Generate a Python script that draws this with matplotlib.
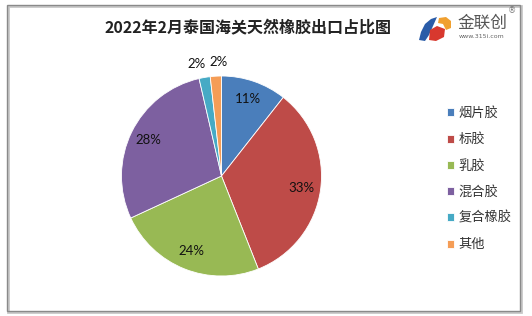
import matplotlib
matplotlib.use("Agg")
import matplotlib.pyplot as plt
from matplotlib.patches import Rectangle, Polygon
import numpy as np

plt.rcParams['font.family'] = ['Noto Sans CJK SC', 'DejaVu Sans']

title = "2022年2月泰国海关天然橡胶出口占比图"
categories = ["烟片胶", "标胶", "乳胶", "混合胶", "复合橡胶", "其他"]
values = [10.6, 33.4, 24.1, 28.3, 1.8, 1.8]
colors = ["#4A7EBB", "#BE4B48", "#98B954", "#7D60A0", "#46AAC5", "#F59D56"]

W, H = 532, 316
fig = plt.figure(figsize=(W / 100, H / 100), dpi=100)
fig.patch.set_facecolor("white")

def fx(x):
    return x / W

def fy(y):
    return 1 - y / H

# outer frame with slight shadow
fig.patches.append(Rectangle((fx(8), fy(312)), (521 - 8) / W, (312 - 6) / H,
                             transform=fig.transFigure, fill=False,
                             edgecolor="#c8c8c8", lw=2.0))
fig.patches.append(Rectangle((fx(7), fy(311)), (520 - 7) / W, (311 - 5) / H,
                             transform=fig.transFigure, fill=False,
                             edgecolor="#8a8a8a", lw=1.0))

# pie axes: center (221.5,176), radius 100 px, limits +-1.25
cx, cy, r = 221.5, 176, 100
half = 1.25 * r
ax = fig.add_axes([fx(cx - half), fy(cy + half), 2 * half / W, 2 * half / H])
wedges, texts, autotexts = ax.pie(
    values, colors=colors, startangle=90, counterclock=False,
    autopct='%.0f%%', pctdistance=0.81,
    wedgeprops=dict(edgecolor="white", linewidth=0.6),
    textprops=dict(fontsize=9.5, family=['Lato', 'DejaVu Sans'], color="#111111"))
ax.set_xlim(-1.25, 1.25)
ax.set_ylim(-1.25, 1.25)
ax.set_aspect('equal')
ax.axis('off')

# small slices: labels outside
for i, w in enumerate(wedges):
    if values[i] < 5:
        ang = np.deg2rad((w.theta1 + w.theta2) / 2)
        autotexts[i].set_position((1.14 * np.cos(ang) + (-0.06 if i == 4 else 0.04),
                                   1.14 * np.sin(ang)))

# legend
leg = fig.legend(wedges, categories, loc="upper left",
                 bbox_to_anchor=(fx(440), fy(100.5)), frameon=False,
                 fontsize=9.5, handlelength=0.55, handleheight=0.55,
                 handletextpad=0.35, labelspacing=1.0, borderpad=0)
for t in leg.get_texts():
    t.set_color("#333333")

# title
fig.text(fx(248), fy(28), title, ha="center", va="center",
         fontsize=11.5, fontweight="bold", color="#222222")

# logo (approximate)
fig.patches.append(Polygon([(fx(431), fy(19)), (fx(437), fy(17)), (fx(433), fy(26)),
                            (fx(429), fy(35)), (fx(425), fy(41)), (fx(419), fy(40)),
                            (fx(421), fy(32)), (fx(425), fy(24))],
                           closed=True, transform=fig.transFigure,
                           facecolor="#2A5CA8", edgecolor="none"))
fig.patches.append(Polygon([(fx(430), fy(30)), (fx(437), fy(26)), (fx(445), fy(29)),
                            (fx(444), fy(37)), (fx(436), fy(41)), (fx(429), fy(40))],
                           closed=True, transform=fig.transFigure,
                           facecolor="#D8382E", edgecolor="none"))
fig.patches.append(Polygon([(fx(439), fy(18)), (fx(446), fy(17)), (fx(451), fy(21)),
                            (fx(451), fy(28)), (fx(446), fy(30)), (fx(443), fy(24)),
                            (fx(438), fy(23))],
                           closed=True, transform=fig.transFigure,
                           facecolor="#F0A030", edgecolor="none"))
fig.text(fx(457), fy(23), "金联创", ha="left", va="center", fontsize=12,
         color="#555555")
fig.text(fx(508), fy(11), "®", ha="left", va="center", fontsize=6,
         family=['DejaVu Sans'], color="#777777")
fig.text(fx(459), fy(37), "www.315i.com", ha="left", va="center", fontsize=4.5,
         family=['DejaVu Sans'], color="#666666")

fig.savefig("out.png", dpi=100)
